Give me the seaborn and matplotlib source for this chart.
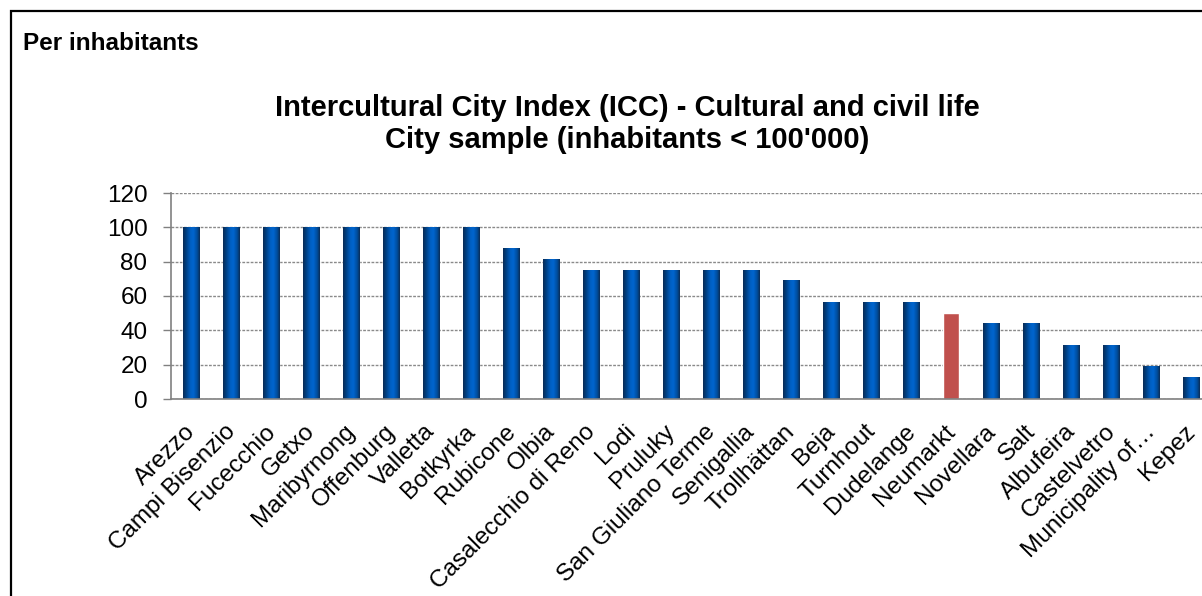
import numpy as np
import pandas as pd
import matplotlib
matplotlib.use("Agg")
import matplotlib.pyplot as plt
import matplotlib.transforms as mtransforms
import seaborn as sns
from matplotlib.colors import LinearSegmentedColormap
from matplotlib.patches import Rectangle

# Cultural and civil life index, cities under 100'000 inhabitants
cities = [
    "Arezzo", "Campi Bisenzio", "Fucecchio", "Getxo", "Maribyrnong", "Offenburg",
    "Valletta", "Botkyrka", "Rubicone", "Olbia", "Casalecchio di Reno", "Lodi",
    "Pruluky", "San Giuliano Terme", "Senigallia", "Trollhättan", "Beja", "Turnhout",
    "Dudelange", "Neumarkt", "Novellara", "Salt", "Albufeira", "Castelvetro",
    "Municipality of…", "Kepez",
]
scores = [
    100, 100, 100, 100, 100, 100,
    100, 100, 87.5, 81.25, 75, 75,
    75, 75, 75, 68.75, 56.25, 56.25,
    56.25, 50, 43.75, 43.75, 31.25, 31.25,
    18.75, 12.5,
]
highlight = "Neumarkt"
y_ticks = [0, 20, 40, 60, 80, 100, 120]

BLUE = "#0060C4"
RED = "#C0504D"

sns.set_theme(style="white")
plt.rcParams["font.family"] = ["Liberation Sans", "DejaVu Sans"]
plt.rcParams["text.color"] = "black"
plt.rcParams["xtick.labelcolor"] = "black"
plt.rcParams["ytick.labelcolor"] = "black"

df = pd.DataFrame({"city": cities, "score": scores})
colors = [RED if c == highlight else BLUE for c in cities]

fig = plt.figure(figsize=(12.02, 5.96), dpi=100)
ax = fig.add_axes([171 / 1202, 1 - 399 / 596, (1211 - 171) / 1202, (399 - 193) / 596])

sns.barplot(data=df, x="city", y="score", hue="city", palette=colors,
            legend=False, width=0.42, ax=ax, saturation=1, zorder=3)

# cylinder-style shading on the blue bars
shade = LinearSegmentedColormap.from_list(
    "cyl",
    [(0.0, "#0B2C55"), (0.15, "#003C7A"), (0.45, "#0060C4"), (0.62, "#0065CE"),
     (0.85, "#004C9A"), (1.0, "#0B2C55")],
)
grad = np.linspace(0, 1, 64).reshape(1, -1)
for patch, c in zip(ax.patches, cities):
    if c == highlight:
        continue
    x0, w, h = patch.get_x(), patch.get_width(), patch.get_height()
    ax.imshow(grad, cmap=shade, extent=[x0, x0 + w, 0, h], aspect="auto",
              interpolation="bilinear", zorder=4, origin="lower")

ax.set_xlim(-0.5, len(cities) - 0.5)
ax.set_ylim(0, 120)
ax.set_yticks(y_ticks)
ax.set_yticklabels([str(v) for v in y_ticks], fontsize=17.5)

# tick marks at category boundaries, labels under the bars
ax.set_xticks(np.arange(len(cities)))
ax.set_xticklabels(cities, rotation=45, ha="right", rotation_mode="anchor", fontsize=17.5)
ax.set_xticks(np.arange(len(cities) + 1) - 0.5, minor=True)
ax.tick_params(axis="x", which="major", length=0, pad=9)
ax.tick_params(axis="x", which="minor", length=5, width=1, color="#808080", direction="out")
ax.tick_params(axis="y", length=6, width=1, color="#808080", direction="out", pad=11, left=True)

shift = mtransforms.ScaledTranslation(-7 / 100, -9 / 100, fig.dpi_scale_trans)
for lab in ax.get_xticklabels():
    lab.set_transform(lab.get_transform() + shift)

ax.grid(axis="y", color="#8A8A8A", linestyle=(0, (2, 1)), linewidth=1, zorder=1)
ax.set_axisbelow(True)
for side in ("top", "right"):
    ax.spines[side].set_visible(False)
for side in ("left", "bottom"):
    ax.spines[side].set_color("#808080")
    ax.spines[side].set_linewidth(1.2)
    ax.spines[side].set_zorder(5)
ax.set_xlabel("")
ax.set_ylabel("")

fig.text(627 / 1202, 1 - 124 / 596,
         "Intercultural City Index (ICC) - Cultural and civil life\nCity sample (inhabitants < 100'000)",
         ha="center", va="center", fontsize=21, fontweight="bold", linespacing=1.2)
fig.text(23 / 1202, 1 - 43 / 596, "Per inhabitants", ha="left", va="center",
         fontsize=17.5, fontweight="bold",
         family=["Liberation Sans Narrow", "Liberation Sans", "DejaVu Sans"])

fig.add_artist(Rectangle((11 / 1202, -0.1), 1.2, 1.1 - 11 / 596, transform=fig.transFigure,
                         fill=False, edgecolor="black", linewidth=1.6, clip_on=False))

fig.savefig("out.png", dpi=100)
